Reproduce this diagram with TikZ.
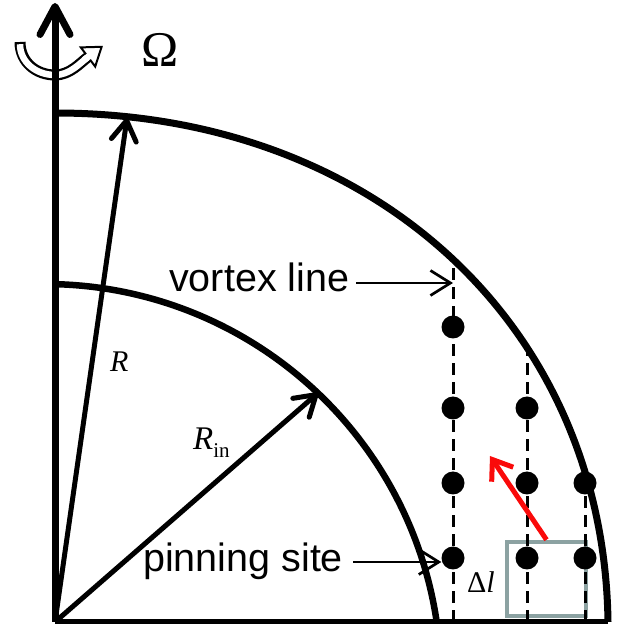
\documentclass[tikz,border=0pt]{standalone}
\usepackage{fontspec}
\setmainfont{Liberation Serif}
\newfontfamily\sansf{Liberation Sans}
\usetikzlibrary{arrows.meta}
\definecolor{boxgray}{RGB}{140,162,162}
\definecolor{arrred}{RGB}{250,10,10}
\begin{document}
\begin{tikzpicture}[x=1pt,y=1pt,
  dot/.style={circle,fill=black,inner sep=0pt,minimum size=23pt},
  vortexline/.style={line width=3pt,dash pattern=on 12pt off 7pt},
  arcline/.style={line width=7pt},
  radarrow/.style={line width=5pt,-{Straight Barb[length=20pt,width=25pt,round]}},
  conn/.style={line width=2.7pt,-{Straight Barb[length=20pt,width=25pt]}},
  sanslbl/.style={font=\sansf\fontsize{39.5}{40}\selectfont,inner sep=0pt},
  seriflbl/.style={inner sep=0pt}
]
\useasboundingbox (0,0) rectangle (621,630);

% rotation symbol
\def\rotpath{(20,588) .. controls (20,568) and (36,555) .. (55,555) .. controls (70,555) and (80,567) .. (88,573)}
\draw[line width=11pt] \rotpath;
\draw[white,line width=6.5pt,shorten <=2.2pt] \rotpath;
\filldraw[fill=white,draw=black,line width=2pt,line join=miter]
  (80.8,582.6) -- (101.6,583.2) -- (95.2,563.4) -- cycle;
\draw[white,line width=6.5pt] (84,570) -- (89.8,574.4);

% axes
\coordinate (O) at (55,8);
\coordinate (axtop) at (55,627);
\coordinate (axright) at (608,8);
\draw[line width=5pt] (O) -- (axright);
\draw[line width=7pt,-{Straight Barb[length=28pt,width=30pt,round]}] (O) -- (axtop);

% arcs
\draw[arcline] (55,517) .. controls (376,517) and (604,303) .. (608,8);
\draw[line width=6.5pt] (45,-50) ++(88.55:396) arc[start angle=88.55,end angle=8.42,radius=396];

% radius arrows
\coordinate (Rtip) at (127,512);
\coordinate (Rintip) at (318,237);
\draw[radarrow] (O) -- (Rtip);
\draw[radarrow] (O) -- (Rintip);
\node[seriflbl,anchor=base west,font=\fontsize{30}{30}\selectfont] (lR) at (110,258) {\itshape R};
\node[seriflbl,anchor=base west] (lRin) at (193,180)
  {\fontsize{33}{33}\selectfont\itshape R\normalfont\fontsize{21}{21}\selectfont\raisebox{-8pt}{in}};

% Omega
\node[seriflbl,anchor=base,font=\fontsize{50}{50}\selectfont] (om) at (160,563) {Ω};

% gray box
\node[draw=boxgray,line width=4.5pt,minimum width=79pt,minimum height=74pt,inner sep=0pt] (box) at (546.5,51) {};

% vortex lines
\coordinate (c1) at (453,8);
\coordinate (c2) at (527,8);
\coordinate (c3) at (585,8);
\begin{scope}
\clip (55,8) -- (55,517) .. controls (376,517) and (604,303) .. (608,8) -- cycle;
\draw[vortexline] (c1) -- ++(0,520);
\draw[vortexline] (c2) -- ++(0,520);
\draw[vortexline] (c3) -- ++(0,520);
\end{scope}

% dots
\node[dot] (d11) at (453,303) {};
\node[dot] (d12) at (453,222) {};
\node[dot] (d13) at (453,147) {};
\node[dot] (d14) at (453,72) {};
\node[dot] (d22) at (527,222) {};
\node[dot] (d23) at (527,147) {};
\node[dot] (d24) at (527,72) {};
\node[dot] (d33) at (585,147) {};
\node[dot] (d34) at (585,72) {};

% labels with arrows
\node[sanslbl,anchor=base west] (vl) at (169,338) {vortex line};
\draw[conn] ([shift={(7pt,9pt)}]vl.base east) -- ([yshift=9pt]vl.base east -| c1);
\node[sanslbl,anchor=base west] (ps) at (143,58) {pinning site};
\draw[conn] ([shift={(10pt,10pt)}]ps.base east) -- ([yshift=10pt]ps.base east -| d14.west);

% Delta l
\node[seriflbl,anchor=base west,font=\fontsize{30}{30}\selectfont] (dl) at (467,37) {Δ\textit{l}};

% red arrow
\coordinate (redtip) at (490,174);
\draw[arrred,line width=5pt,-{Straight Barb[length=18pt,width=26pt]}] (box.north) -- (redtip);

\end{tikzpicture}
\end{document}
